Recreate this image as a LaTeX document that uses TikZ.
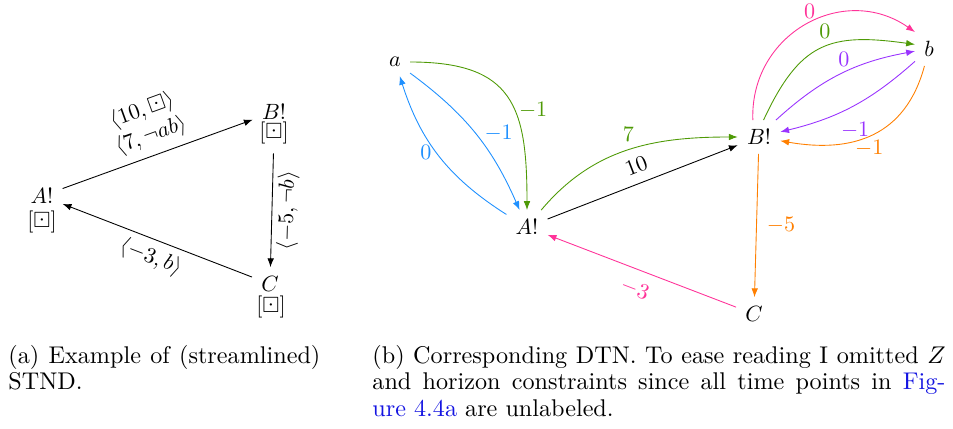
\documentclass[tikz,border=0pt]{standalone}
\usepackage{amssymb}
\usetikzlibrary{arrows.meta}
\definecolor{dgreen}{RGB}{78,154,6}
\definecolor{dblue}{RGB}{30,144,255}
\definecolor{dorange}{RGB}{255,127,0}
\definecolor{dpink}{RGB}{255,51,153}
\definecolor{dpurple}{RGB}{153,51,255}
\definecolor{linkblue}{RGB}{20,20,225}
\tikzset{
  vtx/.style={inner sep=4pt},
  arr/.style={-{Latex[length=4pt,width=3pt]}},
  lbl/.style={inner sep=2pt},
  captext/.style={anchor=base west,inner sep=0pt,font=\fontsize{10.95}{13.6}\selectfont},
}
\begin{document}
\begin{tikzpicture}[x=0.453pt,y=0.453pt]
\useasboundingbox (0,0) rectangle (953,-429);
% ---------- (a) STND ----------
\node[vtx] (A) at (42,-196) {$A!$};
\node[vtx] (Al) at (42,-222) {$[\boxdot]$};
\node[vtx] (B) at (274,-112) {$B!$};
\node[vtx] (Bl) at (274,-133) {$[\boxdot]$};
\node[vtx] (C) at (270,-284) {$C$};
\node[vtx] (Cl) at (271,-307) {$[\boxdot]$};
\draw[arr] (A) -- node[sloped,above=1.5pt,align=center,lbl] {$\langle 10,\boxdot\rangle$\\$\langle 7,\neg ab\rangle$} (B);
\draw[arr] (Bl) -- node[sloped,below,lbl] {$\langle -5,\neg b\rangle$} (C);
\draw[arr] (C) -- node[sloped,below=1pt,lbl] {$\langle -3,b\rangle$} (A);
% ---------- (b) DTN ----------
\node[vtx] (a) at (395,-62) {$a$};
\node[vtx] (A2) at (527,-227) {$A!$};
\node[vtx] (B2) at (759,-137) {$B!$};
\node[vtx] (C2) at (754,-314) {$C$};
\node[vtx] (b) at (929,-49) {$b$};
\draw[arr,dgreen] (a) to[out=0,in=90,looseness=1.4] node[pos=0.58,anchor=west,lbl,text=dgreen] {$-1$} (A2);
\draw[arr,dblue] (a) to[bend left=15] node[pos=0.5,anchor=west,lbl,xshift=2pt,text=dblue] {$-1$} (A2);
\draw[arr,dblue] (A2) to[bend left=20] node[pos=0.53,anchor=east,lbl,text=dblue] {$0$} (a);
\draw[arr,dgreen] (A2) to[out=50,in=180] node[pos=0.5,above=1.5pt,lbl,text=dgreen] {$7$} (B2);
\draw[arr] (A2) -- node[pos=0.5,sloped,above=2.5pt,lbl] {$10$} (B2);
\draw[arr,dorange] (B2) -- node[pos=0.5,right=2.5pt,lbl,text=dorange] {$-5$} (C2);
\draw[arr,dpink] (C2) -- node[pos=0.5,sloped,below=3pt,lbl,text=dpink] {$-3$} (A2);
\draw[arr,dpink] (B2.110) to[out=92,in=145,looseness=1.2] node[pos=0.57,anchor=south east,lbl,yshift=-2pt,text=dpink] {$0$} (b.north west);
\draw[arr,dgreen] (B2.75) to[out=65,in=172,looseness=1.3] node[pos=0.6,anchor=south east,lbl,text=dgreen] {$0$} (b.162);
\draw[arr,dpurple] (B2.45) to[bend left=16] node[pos=0.53,above=0.5pt,lbl,text=dpurple] {$0$} (b);
\draw[arr,dpurple] (b) to[bend left=14] node[pos=0.48,below=5.5pt,lbl,text=dpurple] {$-1$} (B2);
\draw[arr,dorange] (b) to[out=-105,in=-10,looseness=1.15] node[pos=0.52,anchor=north,lbl,text=dorange] {$-1$} (B2);
% ---------- captions ----------
\node[captext] (capa1) at (8,-363.3) {\makebox[141.3pt][s]{(a) Example of (streamlined)}};
\node[captext] (capa2) at (8,-390) {STND.};
\node[captext] (capb1) at (372,-363.3) {\makebox[259.6pt][s]{(b) Corresponding DTN. To ease reading I omitted $Z$}};
\node[captext] (capb2) at (372,-390) {\makebox[259.6pt][s]{and horizon constraints since all time points in \textcolor{linkblue}{Fig-}}};
\node[captext] (capb3) at (372,-416.7) {\textcolor{linkblue}{ure 4.4a} are unlabeled.};
\end{tikzpicture}
\end{document}
